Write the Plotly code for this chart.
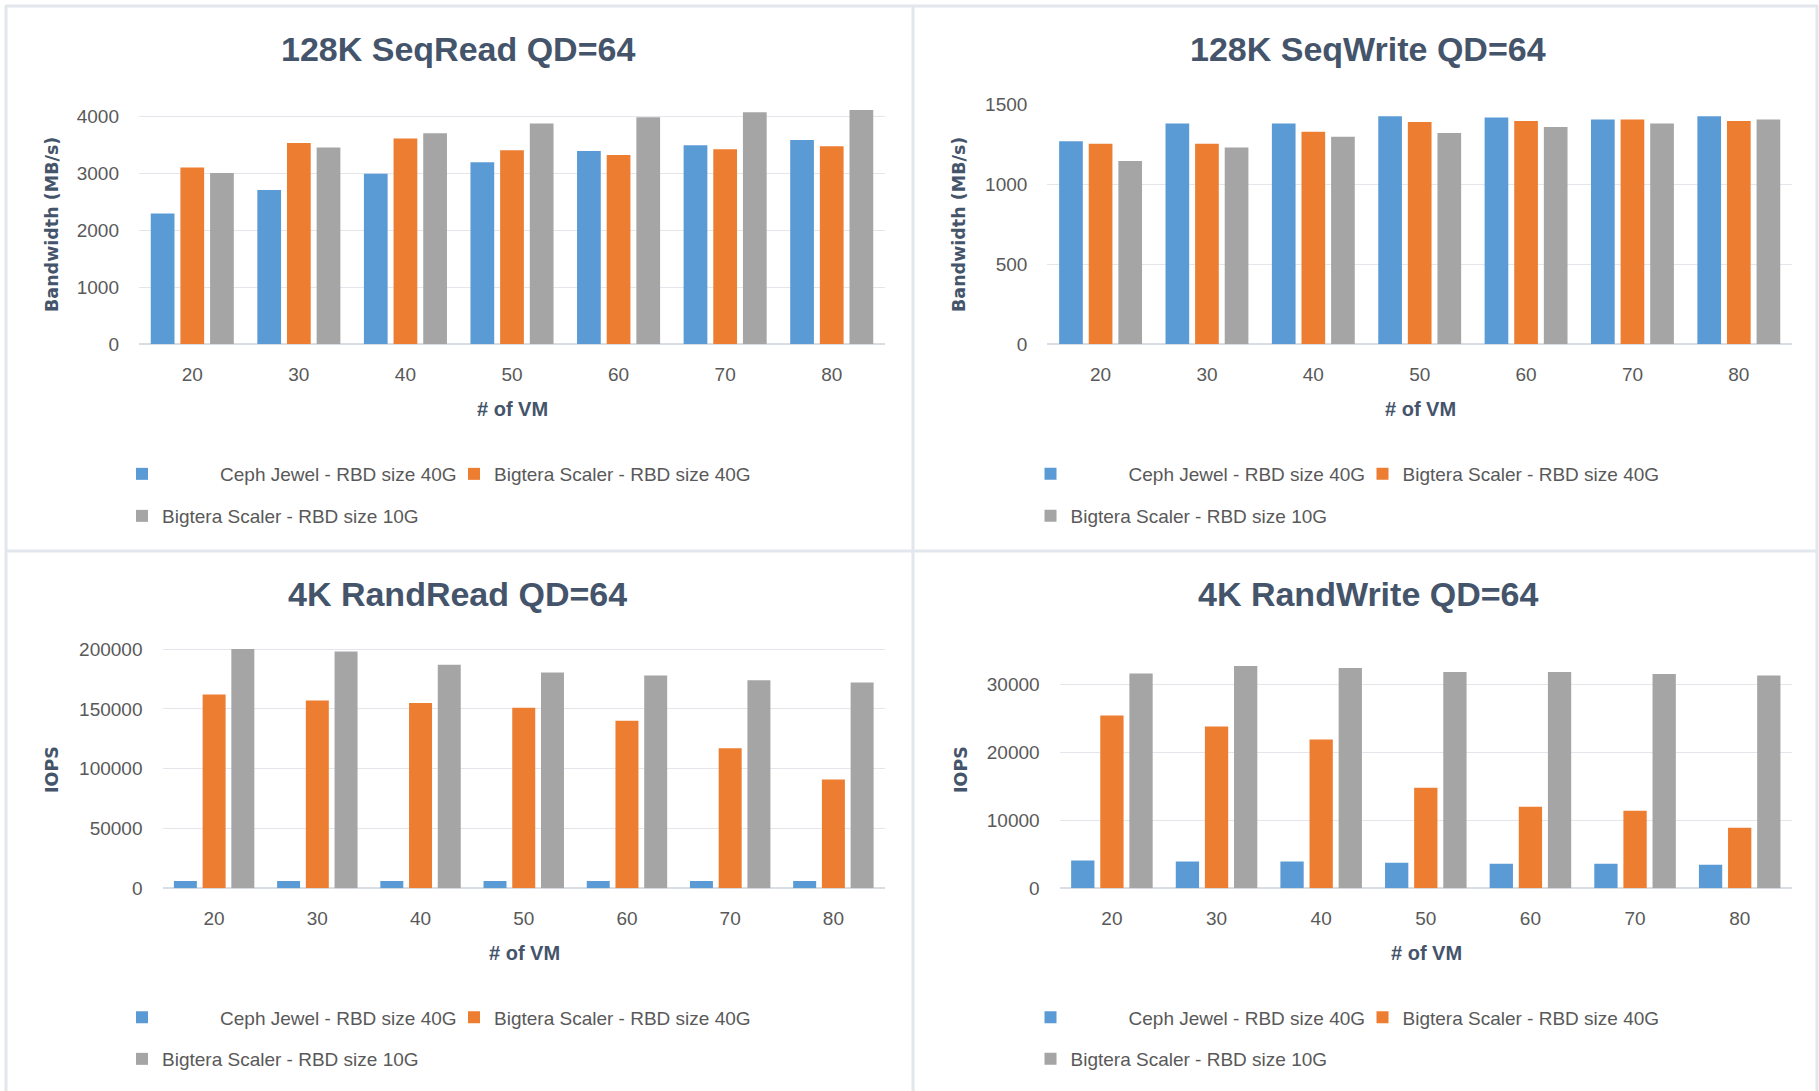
import plotly.graph_objects as go

W, H = 1819, 1091

# ---------------- data ----------------
vms = ["20", "30", "40", "50", "60", "70", "80"]
series_names = ["Ceph Jewel - RBD size 40G",
                "Bigtera Scaler - RBD size 40G",
                "Bigtera Scaler - RBD size 10G"]
chart_titles = ["128K SeqRead QD=64", "128K SeqWrite QD=64",
                "4K RandRead QD=64", "4K RandWrite QD=64"]
y_titles = ["Bandwidth (MB/s)", "Bandwidth (MB/s)", "IOPS", "IOPS"]
x_title = "# of VM"

seqread_ceph = [2300, 2710, 3000, 3200, 3400, 3500, 3590]
seqread_b40 = [3110, 3540, 3620, 3410, 3330, 3430, 3480]
seqread_b10 = [3010, 3460, 3710, 3880, 3990, 4080, 4120]

seqwrite_ceph = [1268, 1380, 1380, 1425, 1417, 1404, 1425]
seqwrite_b40 = [1252, 1252, 1327, 1388, 1395, 1404, 1395]
seqwrite_b10 = [1145, 1230, 1296, 1320, 1357, 1379, 1404]

randread_ceph = [6100, 6100, 6100, 6100, 6100, 6100, 6100]
randread_b40 = [162000, 157000, 155000, 151000, 140000, 117000, 91000]
randread_b10 = [200000, 198000, 187000, 180500, 178000, 174000, 172000]

randwrite_ceph = [4100, 3950, 3950, 3750, 3600, 3600, 3450]
randwrite_b40 = [25400, 23800, 21900, 14800, 12000, 11400, 8900]
randwrite_b10 = [31600, 32700, 32400, 31800, 31800, 31500, 31300]

panel_data = [
    [seqread_ceph, seqread_b40, seqread_b10],
    [seqwrite_ceph, seqwrite_b40, seqwrite_b10],
    [randread_ceph, randread_b40, randread_b10],
    [randwrite_ceph, randwrite_b40, randwrite_b10],
]

# ---------------- styling / geometry (pixels) ----------------
colors = ["#5B9BD5", "#ED7D31", "#A5A5A5"]
FONT = "Liberation Sans"
TITLE_C = "#44546A"
TICK_C = "#595959"
GRID_C = "#E3E6EB"
BORDER_C = "#E2E6ED"

# x0,x1 plot area; y0 pixel of value 0; (gv, gpx) a gridline value & its pixel; range top; dtick
geo = [
    dict(x0=139, x1=885, y0=344.1, gv=4000, gpx=116.8, top=4200, dtick=1000,
         tx=458, ty=49, xtx=512, xty=409, ytx=52, yty=225, lx=122, r1=474, r2=516, ticky=373.5),
    dict(x0=1047.4, x1=1792, y0=344.1, gv=1500, gpx=104.2, top=1500, dtick=500,
         tx=1368, ty=49, xtx=1420, xty=409, ytx=959, yty=225, lx=1030.5, r1=474, r2=516, ticky=373.5),
    dict(x0=162.5, x1=885, y0=888.3, gv=200000, gpx=649.1, top=204000, dtick=50000,
         tx=458, ty=594, xtx=524, xty=952.5, ytx=52, yty=770, lx=122, r1=1017.5, r2=1059, ticky=918),
    dict(x0=1059.6, x1=1792, y0=888.3, gv=30000, gpx=684.3, top=34000, dtick=10000,
         tx=1368, ty=594, xtx=1426, xty=952.5, ytx=961, yty=770, lx=1030.5, r1=1017.5, r2=1059, ticky=918),
]


def px_x(x):
    return x / W


def px_y(y):
    return 1 - y / H


fig = go.Figure()
layout = dict(
    width=W, height=H,
    margin=dict(l=0, r=0, t=0, b=0, pad=0, autoexpand=False),
    paper_bgcolor="white", plot_bgcolor="white",
    barmode="group", bargap=0.165, bargroupgap=0.2,
    font=dict(family=FONT, color=TICK_C, size=19),
    showlegend=True,
)
annotations = []
shapes = []

pad_nbsp = "\u00a0" * 11

for p, g in enumerate(geo):
    ax = "" if p == 0 else str(p + 1)
    xa, ya = "x" + ax, "y" + ax
    scale = (g["y0"] - g["gpx"]) / g["gv"]
    top_px = g["y0"] - g["top"] * scale
    leg1 = "legend" if p == 0 else "legend" + str(2 * p + 1)
    leg2 = "legend" + str(2 * p + 2)

    for s in range(3):
        name = series_names[s]
        if s == 0:
            name = pad_nbsp + name
        fig.add_trace(go.Bar(
            x=vms, y=panel_data[p][s], name=name,
            marker=dict(color=colors[s], line=dict(width=0)),
            xaxis=xa, yaxis=ya,
            legend=leg1 if s < 2 else leg2,
            hoverinfo="x+y+name",
        ))

    layout["xaxis" + ax] = dict(
        domain=[px_x(g["x0"]), px_x(g["x1"])], anchor=ya, type="category",
        showgrid=False, showline=False, zeroline=False, ticks="", automargin=False,
        tickfont=dict(family=FONT, size=19, color=TICK_C),
        ticklabelstandoff=int(g["ticky"] - g["y0"] - 12),
    )
    layout["yaxis" + ax] = dict(
        domain=[px_y(g["y0"]), px_y(top_px)], anchor=xa, automargin=False,
        range=[0, g["top"]], tick0=0, dtick=g["dtick"], tickformat="d",
        showgrid=True, gridcolor=GRID_C, gridwidth=1.3,
        zeroline=True, zerolinecolor="#D9DDE4", zerolinewidth=1.6,
        showline=False, ticks="",
        tickfont=dict(family=FONT, size=19, color=TICK_C),
        ticklabelstandoff=19,
    )
    # chart title
    annotations.append(dict(
        text="<b>" + chart_titles[p] + "</b>", xref="paper", yref="paper",
        x=px_x(g["tx"]), y=px_y(g["ty"]), xanchor="center", yanchor="middle",
        showarrow=False, font=dict(family=FONT, size=34, color=TITLE_C)))
    # x axis title
    annotations.append(dict(
        text="<b>" + x_title + "</b>", xref="paper", yref="paper",
        x=px_x(g["xtx"]), y=px_y(g["xty"]), xanchor="center", yanchor="middle",
        showarrow=False, font=dict(family=FONT, size=20, color=TITLE_C)))
    # y axis title
    annotations.append(dict(
        text="<b>" + y_titles[p] + "</b>", xref="paper", yref="paper",
        x=px_x(g["ytx"]), y=px_y(g["yty"]), xanchor="center", yanchor="middle",
        textangle=-90, showarrow=False,
        font=dict(family="DejaVu Sans", size=17.5, color=TITLE_C)))
    # legends
    for key, ry, ew in ((leg1, g["r1"], 287), (leg2, g["r2"], 0)):
        layout[key] = dict(
            orientation="h", x=px_x(g["lx"]), y=px_y(ry),
            xanchor="left", yanchor="middle", bgcolor="rgba(0,0,0,0)",
            borderwidth=0, font=dict(family=FONT, size=19, color=TICK_C),
            entrywidth=ew, entrywidthmode="pixels",
            itemclick=False, itemdoubleclick=False,
        )

# panel borders
line_style = dict(color=BORDER_C, width=3)
for x0, y0, x1, y1 in [(5, 6, 1818, 6), (6, 6, 6, 1091), (913, 6, 913, 1091),
                       (6, 551, 1818, 551), (1817, 6, 1817, 1091)]:
    shapes.append(dict(type="line", xref="paper", yref="paper",
                       x0=px_x(x0), y0=px_y(y0), x1=px_x(x1), y1=px_y(y1),
                       line=line_style, layer="below"))

layout["annotations"] = annotations
layout["shapes"] = shapes
fig.update_layout(**layout)
fig.write_html("out.html")
